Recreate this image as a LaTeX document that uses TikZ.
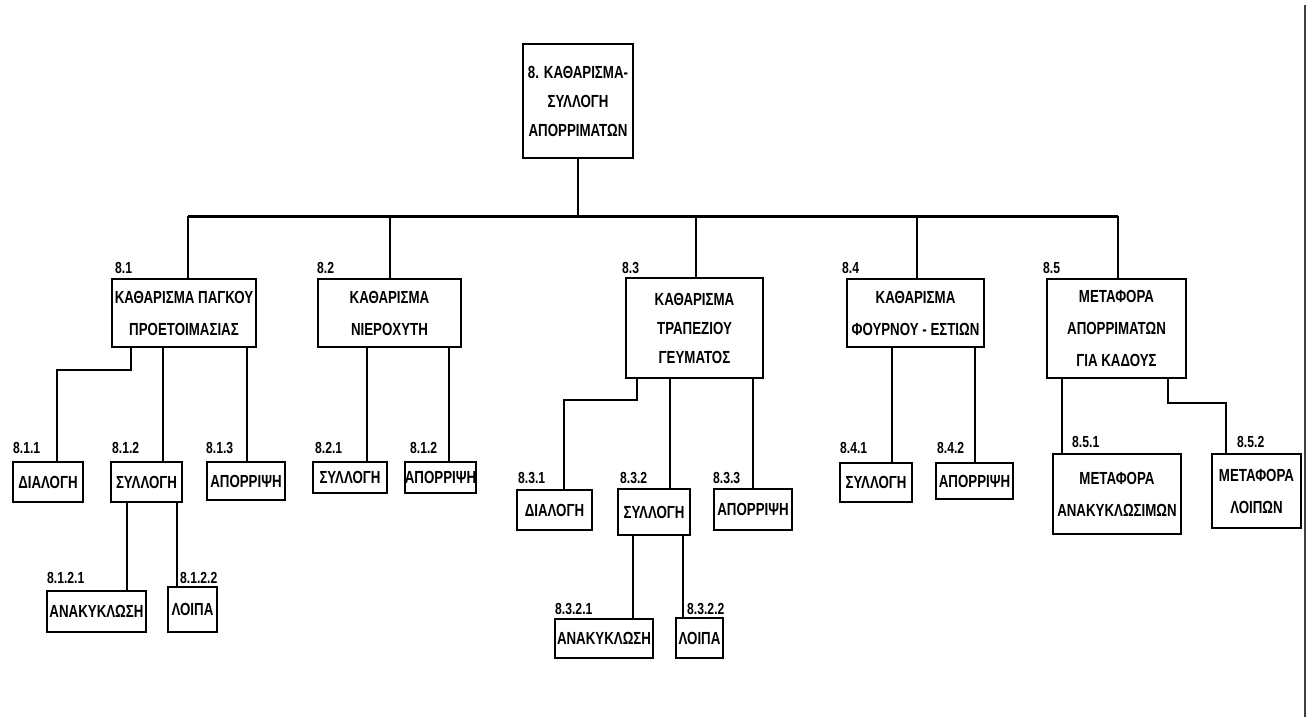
\documentclass[tikz,border=0pt]{standalone}
\usepackage{fontspec}
\newfontfamily\dgfont{Liberation Sans}[FakeStretch=0.76]
\newcommand\dgboxfont{\dgfont\bfseries\fontsize{17.5}{32}\selectfont}
\newcommand\dglblfont{\dgfont\bfseries\fontsize{16}{18}\selectfont}
\tikzset{
  dgbox/.style={draw, line width=2.4pt, inner sep=0pt, align=center, font=\dgboxfont},
  dglbl/.style={inner sep=0pt, anchor=south west, font=\dglblfont},
  conn/.style={line width=1.6pt},
  dgbar/.style={line width=3pt}
}
\begin{document}
\begin{tikzpicture}[x=1pt,y=-1pt]
\useasboundingbox (0,0) rectangle (1313,717);
\fill[white] (0,0) rectangle (1313,717);
% page border line
\coordinate (pb1) at (1305,5);
\coordinate (pb2) at (1305,717);
\draw[line width=1.6pt, black!75] (pb1) -- (pb2);

% root
\node[dgbox, minimum width=110pt, minimum height=114pt, font=\dgfont\bfseries\fontsize{17.5}{29}\selectfont] (root) at (578,101) {8. ΚΑΘΑΡΙΣΜΑ-\\ΣΥΛΛΟΓΗ\\ΑΠΟΡΡΙΜΑΤΩΝ};

% level 1
\node[dgbox, minimum width=144pt, minimum height=68pt] (n81) at (184,313) {ΚΑΘΑΡΙΣΜΑ ΠΑΓΚΟΥ\\ΠΡΟΕΤΟΙΜΑΣΙΑΣ};
\node[dgbox, minimum width=143pt, minimum height=68pt] (n82) at (389.5,313) {ΚΑΘΑΡΙΣΜΑ\\ΝΙΕΡΟΧΥΤΗ};
\node[dgbox, minimum width=137pt, minimum height=100pt, font=\dgfont\bfseries\fontsize{17.5}{29}\selectfont] (n83) at (694.5,328) {ΚΑΘΑΡΙΣΜΑ\\ΤΡΑΠΕΖΙΟΥ\\ΓΕΥΜΑΤΟΣ};
\node[dgbox, minimum width=137pt, minimum height=68pt] (n84) at (915.5,313) {ΚΑΘΑΡΙΣΜΑ\\ΦΟΥΡΝΟΥ - ΕΣΤΙΩΝ};
\node[dgbox, minimum width=139pt, minimum height=99pt] (n85) at (1116.5,328.5) {ΜΕΤΑΦΟΡΑ\\ΑΠΟΡΡΙΜΑΤΩΝ\\ΓΙΑ ΚΑΔΟΥΣ};

\node[dglbl] (l81) at (115,274) {8.1};
\node[dglbl] (l82) at (317,274) {8.2};
\node[dglbl] (l83) at (622,274) {8.3};
\node[dglbl] (l84) at (842,274) {8.4};
\node[dglbl] (l85) at (1043,274) {8.5};

% level 2
\node[dgbox, minimum width=70pt, minimum height=40pt] (n811) at (48,482) {ΔΙΑΛΟΓΗ};
\node[dgbox, minimum width=71pt, minimum height=40pt] (n812) at (146.5,482) {ΣΥΛΛΟΓΗ};
\node[dgbox, minimum width=78pt, minimum height=38pt] (n813) at (246,481) {ΑΠΟΡΡΙΨΗ};
\node[dgbox, minimum width=99pt, minimum height=41pt] (n8121) at (96.5,611.5) {ΑΝΑΚΥΚΛΩΣΗ};
\node[dgbox, minimum width=49pt, minimum height=45pt] (n8122) at (192.5,609.5) {ΛΟΙΠΑ};

\node[dgbox, minimum width=74pt, minimum height=31pt] (n821) at (350,477.5) {ΣΥΛΛΟΓΗ};
\node[dgbox, minimum width=61pt, minimum height=31pt] (n822) at (440.5,477.5) {ΑΠΟΡΡΙΨΗ};

\node[dgbox, minimum width=75pt, minimum height=40pt] (n831) at (554.5,510) {ΔΙΑΛΟΓΗ};
\node[dgbox, minimum width=72pt, minimum height=46pt] (n832) at (654,512) {ΣΥΛΛΟΓΗ};
\node[dgbox, minimum width=78pt, minimum height=41pt] (n833) at (753,509.5) {ΑΠΟΡΡΙΨΗ};
\node[dgbox, minimum width=98pt, minimum height=39pt] (n8321) at (604,638.5) {ΑΝΑΚΥΚΛΩΣΗ};
\node[dgbox, minimum width=47pt, minimum height=40pt] (n8322) at (699.5,638) {ΛΟΙΠΑ};

\node[dgbox, minimum width=72pt, minimum height=39pt] (n841) at (876,482.5) {ΣΥΛΛΟΓΗ};
\node[dgbox, minimum width=77pt, minimum height=36pt] (n842) at (974.5,481) {ΑΠΟΡΡΙΨΗ};

\node[dgbox, minimum width=128pt, minimum height=80pt] (n851) at (1117,494) {ΜΕΤΑΦΟΡΑ\\ΑΝΑΚΥΚΛΩΣΙΜΩΝ};
\node[dgbox, minimum width=89pt, minimum height=74pt] (n852) at (1256.5,491) {ΜΕΤΑΦΟΡΑ\\ΛΟΙΠΩΝ};

% labels level 2
\node[dglbl] (l811) at (13,454) {8.1.1};
\node[dglbl] (l812) at (112,454) {8.1.2};
\node[dglbl] (l813) at (206,454) {8.1.3};
\node[dglbl] (l8121) at (47,584) {8.1.2.1};
\node[dglbl] (l8122) at (180,584) {8.1.2.2};
\node[dglbl] (l821) at (315,454) {8.2.1};
\node[dglbl] (l822) at (410,454) {8.1.2};
\node[dglbl] (l831) at (518,484) {8.3.1};
\node[dglbl] (l832) at (620,484) {8.3.2};
\node[dglbl] (l833) at (713,484) {8.3.3};
\node[dglbl] (l8321) at (555,615) {8.3.2.1};
\node[dglbl] (l8322) at (687,615) {8.3.2.2};
\node[dglbl] (l841) at (840,454) {8.4.1};
\node[dglbl] (l842) at (937,454) {8.4.2};
\node[dglbl] (l851) at (1072,448) {8.5.1};
\node[dglbl] (l852) at (1237,448) {8.5.2};

% bar and trunk
\coordinate (bL) at (188,216);
\coordinate (b2) at (390,216);
\coordinate (b3) at (696,216);
\coordinate (b4) at (917,216);
\coordinate (bR) at (1118,216);
\draw[dgbar] (bL) -- (bR);
\draw[conn] (root.south) -- (root.south |- bL);
\draw[conn] (bL) -- (bL |- n81.north);
\draw[conn] (b2) -- (b2 |- n82.north);
\draw[conn] (b3) -- (b3 |- n83.north);
\draw[conn] (b4) -- (b4 |- n84.north);
\draw[conn] (bR) -- (bR |- n85.north);

% x positions of connectors
\coordinate (e811) at (131,370);
\coordinate (x811) at (57,0);
\coordinate (x812) at (163,0);
\coordinate (x813) at (247,0);
\coordinate (x8121) at (127,0);
\coordinate (x8122) at (177,0);
\coordinate (x821) at (367,0);
\coordinate (x822) at (449,0);
\coordinate (e831) at (637,400);
\coordinate (x831) at (564,0);
\coordinate (x832) at (670,0);
\coordinate (x833) at (753,0);
\coordinate (x8321) at (633,0);
\coordinate (x8322) at (683,0);
\coordinate (x841) at (892,0);
\coordinate (x842) at (975,0);
\coordinate (x851) at (1062,0);
\coordinate (e852) at (1168,403);
\coordinate (x852) at (1226,0);

\draw[conn] (n81.south -| e811) -- (e811) -| (n811.north -| x811);
\draw[conn] (n81.south -| x812) -- (n812.north -| x812);
\draw[conn] (n81.south -| x813) -- (n813.north -| x813);
\draw[conn] (n812.south -| x8121) -- (n8121.north -| x8121);
\draw[conn] (n812.south -| x8122) -- (n8122.north -| x8122);
\draw[conn] (n82.south -| x821) -- (n821.north -| x821);
\draw[conn] (n82.south -| x822) -- (n822.north -| x822);
\draw[conn] (n83.south -| e831) -- (e831) -| (n831.north -| x831);
\draw[conn] (n83.south -| x832) -- (n832.north -| x832);
\draw[conn] (n83.south -| x833) -- (n833.north -| x833);
\draw[conn] (n832.south -| x8321) -- (n8321.north -| x8321);
\draw[conn] (n832.south -| x8322) -- (n8322.north -| x8322);
\draw[conn] (n84.south -| x841) -- (n841.north -| x841);
\draw[conn] (n84.south -| x842) -- (n842.north -| x842);
\draw[conn] (n85.south -| x851) -- (n851.north -| x851);
\draw[conn] (n85.south -| e852) -- (e852) -| (n852.north -| x852);
\end{tikzpicture}
\end{document}
